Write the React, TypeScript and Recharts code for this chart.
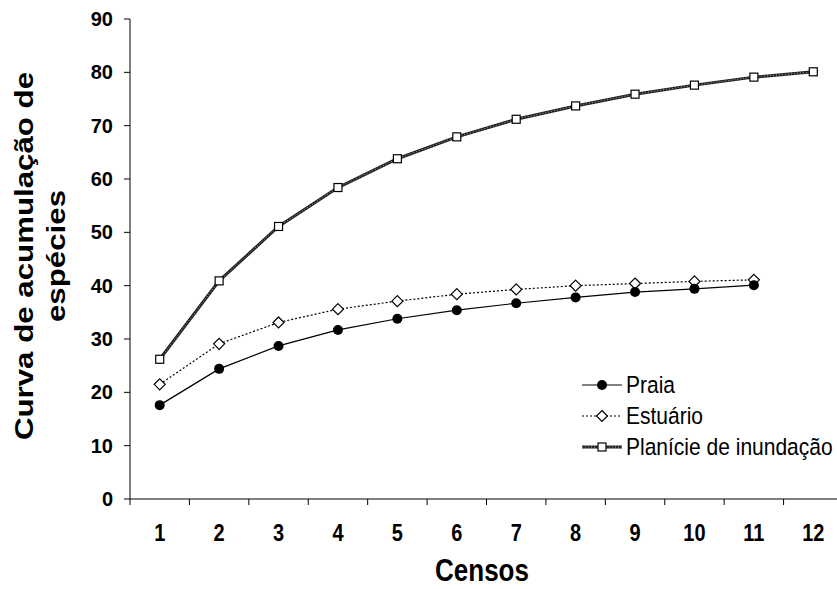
import React from "react";
import { LineChart, Line, XAxis, YAxis } from "recharts";

const censos = [1, 2, 3, 4, 5, 6, 7, 8, 9, 10, 11, 12];
const praia = [17.6, 24.4, 28.7, 31.7, 33.8, 35.4, 36.7, 37.8, 38.8, 39.4, 40.1];
const estuario = [21.5, 29.1, 33.1, 35.6, 37.1, 38.4, 39.3, 40.0, 40.4, 40.8, 41.1];
const planicie = [26.2, 40.9, 51.1, 58.4, 63.8, 67.9, 71.2, 73.7, 75.9, 77.6, 79.1, 80.1];
const yTicks = [0, 10, 20, 30, 40, 50, 60, 70, 80, 90];
const xTicks = [0.5, 1.5, 2.5, 3.5, 4.5, 5.5, 6.5, 7.5, 8.5, 9.5, 10.5, 11.5, 12.5];

const data = censos.map((c, i) => ({
  censo: c,
  praia: praia[i],
  estuario: estuario[i],
  planicie: planicie[i],
}));

const FONT = '"Liberation Sans", Arial, sans-serif';
const W = 850;
const H = 589;
const M = { top: 19, right: 7, left: 0, bottom: 30 };
const Y_W = 130;
const BAND = (W - M.left - M.right - Y_W) / censos.length;

const Circle = (p: any) =>
  p.cy == null ? <g key={p.key ?? p.index} /> : <circle key={p.key ?? p.index} cx={p.cx} cy={p.cy} r={5} fill="#000" />;

const Diamond = (p: any) => {
  if (p.cy == null) return <g key={p.key ?? p.index} />;
  const s = 5.5;
  const pts = `${p.cx},${p.cy - s} ${p.cx + s},${p.cy} ${p.cx},${p.cy + s} ${p.cx - s},${p.cy}`;
  return <polygon key={p.key ?? p.index} points={pts} fill="#fff" stroke="#000" strokeWidth={1.2} />;
};

const Square = (p: any) =>
  p.cy == null ? (
    <g key={p.key ?? p.index} />
  ) : (
    <rect key={p.key ?? p.index} x={p.cx - 4} y={p.cy - 4} width={8} height={8} fill="#fff" stroke="#000" strokeWidth={1.2} />
  );

// category labels sit between the tick marks
function XTick(props: any) {
  const { x, y, payload } = props;
  if (payload.value > 12) return <g />;
  return (
    <text
      x={x + BAND / 2}
      y={y + 34}
      textAnchor="middle"
      fontFamily={FONT}
      fontWeight={700}
      fontSize={20}
      fill="#000"
      transform={`translate(0 ${-(y + 34) * 0.15}) scale(1 1.15)`}
    >
      {payload.value + 0.5}
    </text>
  );
}

const legendRows = [
  { name: "Praia", kind: "circle" },
  { name: "Estuário", kind: "diamond" },
  { name: "Planície de inundação", kind: "square" },
];

function LegendSymbol({ kind }: { kind: string }) {
  return (
    <svg width={42} height={14} style={{ display: "block" }}>
      {kind === "circle" && (
        <>
          <line x1={1} y1={7} x2={41} y2={7} stroke="#000" strokeWidth={1.2} />
          <circle cx={21} cy={7} r={5} fill="#000" />
        </>
      )}
      {kind === "diamond" && (
        <>
          <line x1={1} y1={7} x2={41} y2={7} stroke="#000" strokeWidth={1.2} strokeDasharray="2 2" />
          <polygon points="21,1.5 26.5,7 21,12.5 15.5,7" fill="#fff" stroke="#000" strokeWidth={1.2} />
        </>
      )}
      {kind === "square" && (
        <>
          <line x1={1} y1={7} x2={41} y2={7} stroke="#222" strokeWidth={3} />
          <line x1={1} y1={7} x2={41} y2={7} stroke="#aaa" strokeWidth={1} strokeDasharray="1 2" />
          <rect x={17} y={3} width={8} height={8} fill="#fff" stroke="#000" strokeWidth={1.2} />
        </>
      )}
    </svg>
  );
}

function LegendBox() {
  return (
    <div style={{ fontFamily: FONT, fontSize: 21, color: "#000" }}>
      {legendRows.map((r) => (
        <div key={r.name} style={{ display: "flex", alignItems: "center", height: 31 }}>
          <LegendSymbol kind={r.kind} />
          <span style={{ marginLeft: 3, whiteSpace: "nowrap", display: "inline-block", transform: "scaleY(1.12)" }}>
            {r.name}
          </span>
        </div>
      ))}
    </div>
  );
}

export default function App() {
  return (
    <div
      style={{
        position: "absolute",
        left: 0,
        top: 0,
        width: 837,
        height: H,
        overflow: "hidden",
        background: "#fff",
      }}
    >
      <LineChart width={W} height={H} data={data} margin={M}>
        <XAxis
          dataKey="censo"
          type="number"
          domain={[0.5, 12.5]}
          ticks={xTicks}
          interval={0}
          height={60}
          tickSize={6}
          axisLine={{ stroke: "#000" }}
          tickLine={{ stroke: "#000" }}
          tick={<XTick />}
        />
        <YAxis
          type="number"
          domain={[0, 90]}
          ticks={yTicks}
          interval={0}
          width={Y_W}
          tickSize={6}
          tickMargin={11}
          axisLine={{ stroke: "#000" }}
          tickLine={{ stroke: "#000" }}
          tick={{ fontSize: 20, fontWeight: 700, fill: "#000", fontFamily: FONT }}
        />
        <Line
          dataKey="planicie"
          stroke="#222"
          strokeWidth={3}
          dot={false}
          activeDot={false}
          legendType="none"
          isAnimationActive={false}
        />
        <Line
          dataKey="planicie"
          name="Planície de inundação"
          stroke="#aaa"
          strokeWidth={1}
          strokeDasharray="1 2"
          dot={Square}
          activeDot={false}
          isAnimationActive={false}
        />
        <Line
          dataKey="estuario"
          name="Estuário"
          stroke="#000"
          strokeWidth={1.2}
          strokeDasharray="2 2"
          dot={Diamond}
          activeDot={false}
          isAnimationActive={false}
        />
        <Line
          dataKey="praia"
          name="Praia"
          stroke="#000"
          strokeWidth={1.2}
          dot={Circle}
          activeDot={false}
          isAnimationActive={false}
        />
      </LineChart>
      <div style={{ position: "absolute", left: 581, top: 369 }}>
        <LegendBox />
      </div>
      <div
        style={{
          position: "absolute",
          left: 40,
          top: 256,
          transform: "translate(-50%, -50%) rotate(-90deg) scaleX(1.25)",
          fontFamily: FONT,
          fontWeight: 700,
          fontSize: 25,
          lineHeight: "32px",
          textAlign: "center",
          whiteSpace: "nowrap",
        }}
      >
        Curva de acumulação de
        <br />
        espécies
      </div>
      <div
        style={{
          position: "absolute",
          left: 482,
          top: 571,
          transform: "translate(-50%, -50%) scaleY(1.2)",
          fontFamily: FONT,
          fontWeight: 700,
          fontSize: 26,
          whiteSpace: "nowrap",
        }}
      >
        Censos
      </div>
    </div>
  );
}
